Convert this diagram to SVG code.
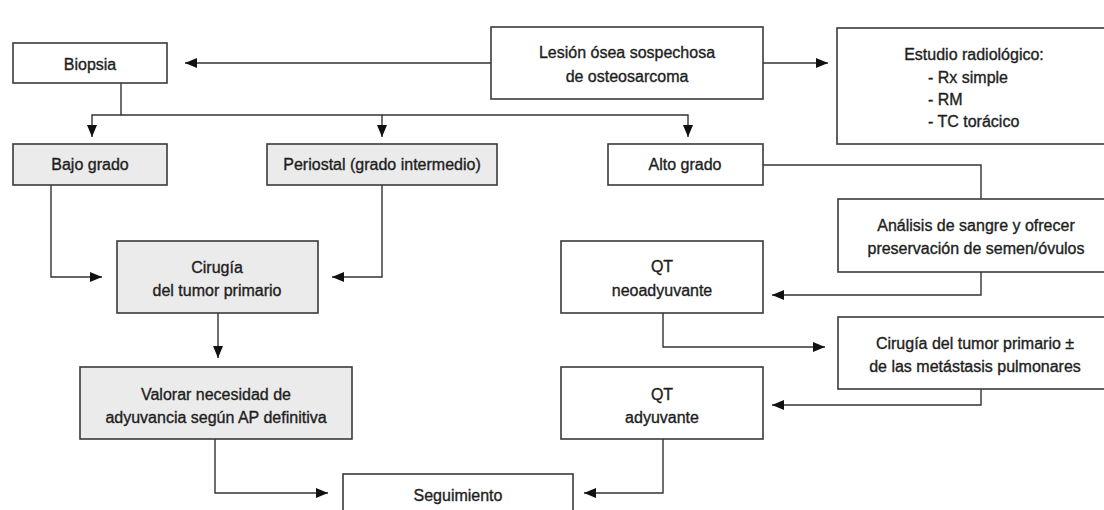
<svg xmlns="http://www.w3.org/2000/svg" width="1104" height="510" viewBox="0 0 1104 510">
<style>
.box{fill:#ffffff;stroke:#3a3a3a;stroke-width:1.6}
.gray{fill:#ebebeb}
.t{font-family:"Liberation Sans",Arial,sans-serif;font-size:16px;fill:#1e1e1e;stroke:#1e1e1e;stroke-width:0.35;text-anchor:middle}
.l{text-anchor:start}
.c{fill:none;stroke:#333;stroke-width:1.4;marker-end:url(#ah)}
.n{fill:none;stroke:#333;stroke-width:1.4}
</style>
<defs>
<marker id="ah" markerUnits="userSpaceOnUse" markerWidth="13" markerHeight="10" refX="12" refY="5" orient="auto">
<path d="M0,0 L12,5 L0,10 z" fill="#111"/>
</marker>
</defs>
<rect width="1104" height="510" fill="#ffffff"/>
<g id="connectors">
<path class="c" d="M491,63 H185"/>
<path class="c" d="M763,63 H828"/>
<path class="c" d="M121,83 V115 H92 V137"/>
<path class="c" d="M121,115 H382 V137"/>
<path class="c" d="M382,115 H688 V137"/>
<path class="n" d="M763,165 H981 V199"/>
<path class="c" d="M981,272 V295 H772"/>
<path class="c" d="M663,313 V347 H825"/>
<path class="c" d="M981,389 V405 H772"/>
<path class="c" d="M663,439 V493 H584"/>
<path class="c" d="M51,185 V277 H102"/>
<path class="c" d="M382,185 V277 H332"/>
<path class="c" d="M218,313 V358"/>
<path class="c" d="M215,439 V493 H328"/>
</g>
<g id="biopsia">
<rect class="box" x="13" y="43" width="154" height="40"/>
<text class="t" x="90" y="70">Biopsia</text>
</g>
<g id="lesion">
<rect class="box" x="491" y="27" width="272" height="72"/>
<text class="t" x="627" y="58">Lesión ósea sospechosa</text>
<text class="t" x="627" y="82">de osteosarcoma</text>
</g>
<g id="estudio">
<rect class="box" x="837" y="28" width="280" height="116"/>
<text class="t" x="974" y="60">Estudio radiológico:</text>
<text class="t l" x="928" y="83">- Rx simple</text>
<text class="t l" x="928" y="105">- RM</text>
<text class="t l" x="928" y="127">- TC torácico</text>
</g>
<g id="bajo">
<rect class="box gray" x="13" y="144" width="154" height="41"/>
<text class="t" x="90" y="170">Bajo grado</text>
</g>
<g id="periostal">
<rect class="box gray" x="267" y="144" width="230" height="41"/>
<text class="t" x="382" y="170">Periostal (grado intermedio)</text>
</g>
<g id="alto">
<rect class="box" x="608" y="144" width="155" height="41"/>
<text class="t" x="685" y="170">Alto grado</text>
</g>
<g id="analisis">
<rect class="box" x="838" y="199" width="280" height="73"/>
<text class="t" x="976" y="231">Análisis de sangre y ofrecer</text>
<text class="t" x="976" y="254">preservación de semen/óvulos</text>
</g>
<g id="cirugia">
<rect class="box gray" x="117" y="241" width="201" height="72"/>
<text class="t" x="217" y="273">Cirugía</text>
<text class="t" x="217" y="296">del tumor primario</text>
</g>
<g id="qtneo">
<rect class="box" x="561" y="241" width="202" height="72"/>
<text class="t" x="662" y="272">QT</text>
<text class="t" x="662" y="296">neoadyuvante</text>
</g>
<g id="cirugia2">
<rect class="box" x="838" y="317" width="280" height="72"/>
<text class="t" x="975" y="349">Cirugía del tumor primario ±</text>
<text class="t" x="975" y="372">de las metástasis pulmonares</text>
</g>
<g id="valorar">
<rect class="box gray" x="80" y="367" width="272" height="72"/>
<text class="t" x="216" y="400">Valorar necesidad de</text>
<text class="t" x="216" y="423">adyuvancia según AP definitiva</text>
</g>
<g id="qtady">
<rect class="box" x="561" y="367" width="202" height="72"/>
<text class="t" x="662" y="400">QT</text>
<text class="t" x="662" y="423">adyuvante</text>
</g>
<g id="seguimiento">
<rect class="box" x="343" y="474" width="230" height="60"/>
<text class="t" x="458" y="501">Seguimiento</text>
</g>
</svg>
